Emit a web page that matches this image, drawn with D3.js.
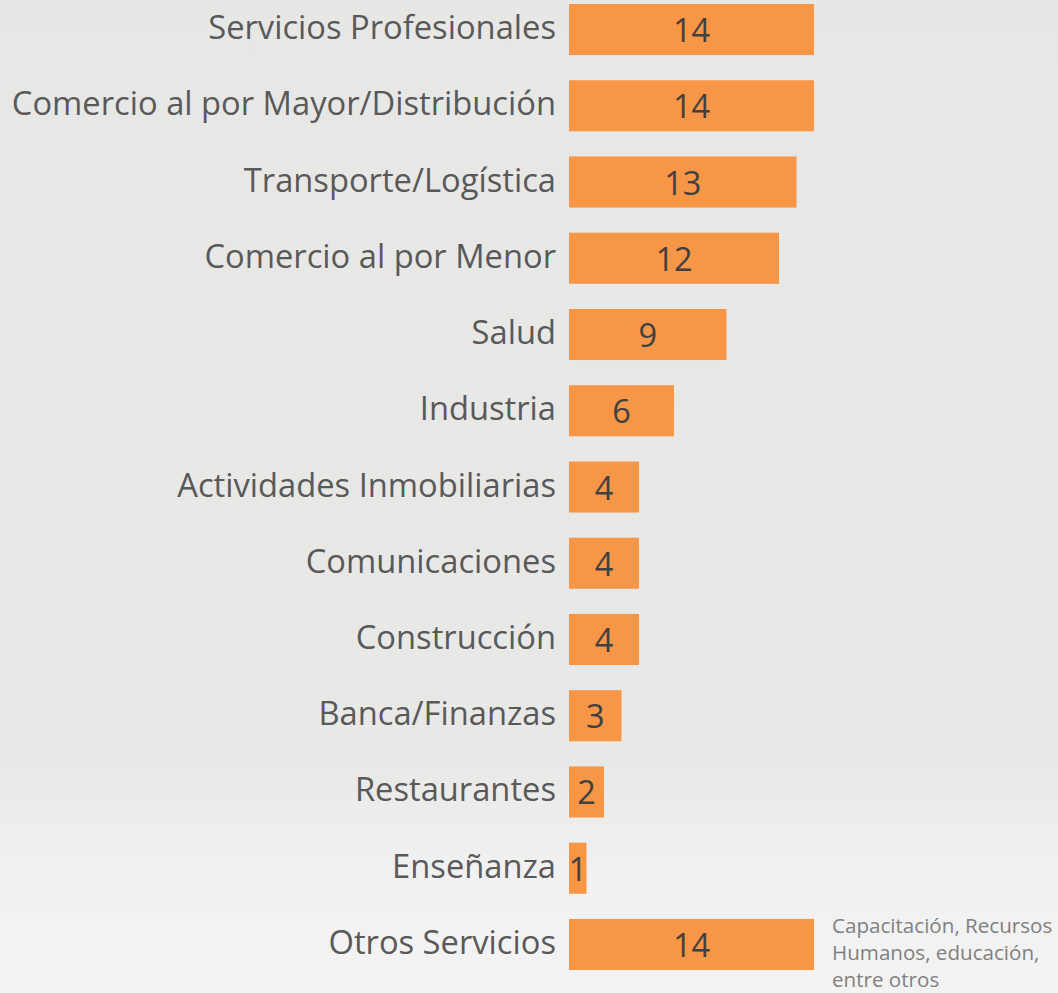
<!DOCTYPE html>
<html>
<head>
<meta charset="utf-8">
<script src="https://cdn.jsdelivr.net/npm/d3@7"></script>
<style>
  html, body { margin: 0; padding: 0; }
  body { width: 1058px; height: 993px; overflow: hidden; }
  svg { display: block; }
</style>
</head>
<body>
<svg id="chart" width="1058" height="993"></svg>
<script>
// Sectores y número de empresas
const categories = [
  "Servicios Profesionales",
  "Comercio al por Mayor/Distribución",
  "Transporte/Logística",
  "Comercio al por Menor",
  "Salud",
  "Industria",
  "Actividades Inmobiliarias",
  "Comunicaciones",
  "Construcción",
  "Banca/Finanzas",
  "Restaurantes",
  "Enseñanza",
  "Otros Servicios"
];
const values = [14, 14, 13, 12, 9, 6, 4, 4, 4, 3, 2, 1, 14];
const noteLines = ["Capacitación, Recursos", "Humanos, educación,", "entre otros"];

const W = 1058, H = 993;
const svg = d3.select("#chart");

// Fondo gris claro que se aclara hacia la parte inferior
const defs = svg.append("defs");
const bg = defs.append("linearGradient")
  .attr("id", "bg").attr("x1", 0).attr("y1", 0).attr("x2", 0).attr("y2", 1);
bg.append("stop").attr("offset", "0%").attr("stop-color", "#e7e7e6");
bg.append("stop").attr("offset", "76%").attr("stop-color", "#e8e8e7");
bg.append("stop").attr("offset", "88%").attr("stop-color", "#f1f1f1");
bg.append("stop").attr("offset", "100%").attr("stop-color", "#f3f3f3");
svg.append("rect").attr("width", W).attr("height", H).attr("fill", "url(#bg)");

const x = d3.scaleLinear().domain([0, 14]).range([569, 814]);
const y = d3.scaleBand().domain(categories).range([4, 970])
  .paddingInner(0.33).paddingOuter(0);

const data = categories.map((c, i) => ({ cat: c, val: values[i] }));
const font = "'Open Sans', sans-serif";

// Barras
svg.append("g").selectAll("rect").data(data).join("rect")
  .attr("x", x(0))
  .attr("y", d => y(d.cat))
  .attr("width", d => x(d.val) - x(0))
  .attr("height", y.bandwidth())
  .attr("fill", "#f79646");

// Etiquetas de categoría
svg.append("g").selectAll("text").data(data).join("text")
  .attr("x", 556)
  .attr("y", d => y(d.cat) + y.bandwidth() / 2 + 9.5)
  .attr("text-anchor", "end")
  .attr("font-family", font)
  .attr("font-size", 32.7)
  .attr("fill", "#595959")
  .text(d => d.cat);

// Valores dentro de las barras
svg.append("g").selectAll("text").data(data).join("text")
  .attr("x", d => (x(0) + x(d.val)) / 2)
  .attr("y", d => y(d.cat) + y.bandwidth() / 2 + 12.5)
  .attr("text-anchor", "middle")
  .attr("font-family", font)
  .attr("font-size", 32.5)
  .attr("fill", "#404040")
  .text(d => d.val);

// Nota sobre "Otros Servicios"
const last = categories[categories.length - 1];
svg.append("text")
  .attr("font-family", font)
  .attr("font-size", 20.6)
  .attr("fill", "#808080")
  .selectAll("tspan").data(noteLines).join("tspan")
  .attr("x", 832)
  .attr("y", (d, i) => y(last) + 14 + i * 27)
  .text(d => d);
</script>
</body>
</html>
